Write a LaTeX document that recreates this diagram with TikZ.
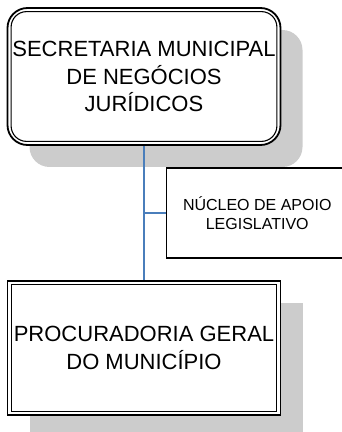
\documentclass[tikz,border=0pt]{standalone}
\usepackage{fontspec}
\setmainfont{Liberation Sans}
\usetikzlibrary{shadows}

\definecolor{linkblue}{RGB}{74,126,187}

\tikzset{
  orgbox/.style={draw, fill=white, line width=1.8pt, inner sep=0pt, align=center,
    minimum width=273pt, drop shadow={shadow xshift=22pt, shadow yshift=-22pt, fill=black!20, opacity=1}},
  innerline/.style={line width=1.1pt},
  bigtext/.style={font=\fontsize{22}{27.5}\selectfont},
  smalltext/.style={font=\fontsize{16}{18.5}\selectfont},
  link/.style={draw=linkblue, line width=1.5pt},
}

\begin{document}
\begin{tikzpicture}[x=1pt, y=1pt]
    \useasboundingbox (0,0) rectangle (342,432);
    % secretaria
    \node[orgbox, bigtext, rounded corners=20pt, minimum height=137pt] (sec) at (144,355.5)
      {SECRETARIA MUNICIPAL\\DE NEGÓCIOS\\JURÍDICOS};
    \draw[innerline, rounded corners=15.5pt] ([shift={(4.5pt,-4.5pt)}]sec.north west)
      rectangle ([shift={(-4.5pt,4.5pt)}]sec.south east);
    % procuradoria
    \node[orgbox, bigtext, minimum height=134pt] (proc) at (144,84)
      {PROCURADORIA GERAL\\DO MUNICÍPIO};
    \draw[innerline] ([shift={(4.5pt,-4.5pt)}]proc.north west)
      rectangle ([shift={(-4.5pt,4.5pt)}]proc.south east);
    % nucleo
    \node[draw, fill=white, line width=1.5pt, smalltext, align=center, inner sep=0pt,
      minimum width=181.5pt, minimum height=90pt] (nuc) at (257.25,219)
      {NÚCLEO DE APOIO\\LEGISLATIVO};
    % ligacoes
    \draw[link] (sec.south) -- (proc.north);
    \draw[link] (sec.south |- nuc.west) -- (nuc.west);
\end{tikzpicture}
\end{document}
